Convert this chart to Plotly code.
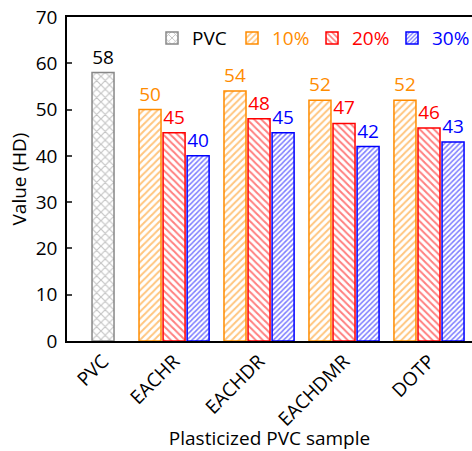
import plotly.graph_objects as go

categories = ["PVC", "EACHR", "EACHDR", "EACHDMR", "DOTP"]
pvc_value = [58]
v10 = [50, 54, 52, 52]
v20 = [45, 48, 47, 46]
v30 = [40, 45, 42, 43]
series_names = ["10%", "20%", "30%"]

# layout positions of category centres on a numeric axis
cat_pos = [0.164, 1, 2, 3, 4]
bw = 0.259
step = 0.283

FONT = "Open Sans"
FS = 19
colors = {"PVC": "#888888", "10%": "#ff8c00", "20%": "#ff0000", "30%": "#0000ff"}
patterns = {"PVC": ("x", 6, 0.35), "10%": ("/", 5, 0.4), "20%": ("\\", 5, 0.4), "30%": ("/", 3.6, 0.45)}

fig = go.Figure()

def add(name, xs, ys, offset, label):
    col = colors[name]
    shp, sz, sol = patterns[name]
    txtcol = "#000" if name == "PVC" else col
    fig.add_trace(go.Bar(
        x=xs, y=ys, width=bw, offset=offset,
        name=f"<span style='color:{txtcol}'>{label}</span>",
        marker=dict(color="white", line=dict(color=col, width=1.5),
                    pattern=dict(shape=shp, size=sz, solidity=sol, fgcolor=col, bgcolor="white", fillmode="overlay")),
        text=[str(v) for v in ys], textposition="outside", cliponaxis=False,
        textfont=dict(color=txtcol, size=FS, family=FONT),
    ))

add("PVC", [cat_pos[0]], pvc_value, -bw / 2, "PVC")
for i, (nm, vals) in enumerate(zip(series_names, [v10, v20, v30])):
    add(nm, cat_pos[1:], vals, -bw / 2 + (i - 1) * step, nm)

fig.update_layout(
    width=472, height=451,
    margin=dict(l=67, r=0, t=17, b=110),
    plot_bgcolor="white", paper_bgcolor="white",
    font=dict(family=FONT, size=FS, color="black"),
    showlegend=True,
    legend=dict(orientation="h", x=1.0, y=0.935, xanchor="right", yanchor="middle",
                font=dict(size=FS, family=FONT), bgcolor="rgba(0,0,0,0)",
                entrywidth=35, entrywidthmode="pixels", traceorder="normal"),
    xaxis=dict(range=[-0.26, 4.506], tickvals=cat_pos, ticktext=categories,
               tickangle=-45, showline=True, linecolor="black", linewidth=1.5,
               mirror=True, ticks="", showgrid=False, zeroline=False,
               title=dict(text="Plasticized PVC sample", font=dict(size=FS), standoff=6)),
    yaxis=dict(range=[0, 70], dtick=10, showline=True, linecolor="black", linewidth=1.5,
               ticks="inside", ticklen=5, tickwidth=1.5, showgrid=False, zeroline=False,
               ticklabelstandoff=4,
               title=dict(text="Value (HD)", font=dict(size=FS), standoff=4)),
)

fig.write_html("out.html")
